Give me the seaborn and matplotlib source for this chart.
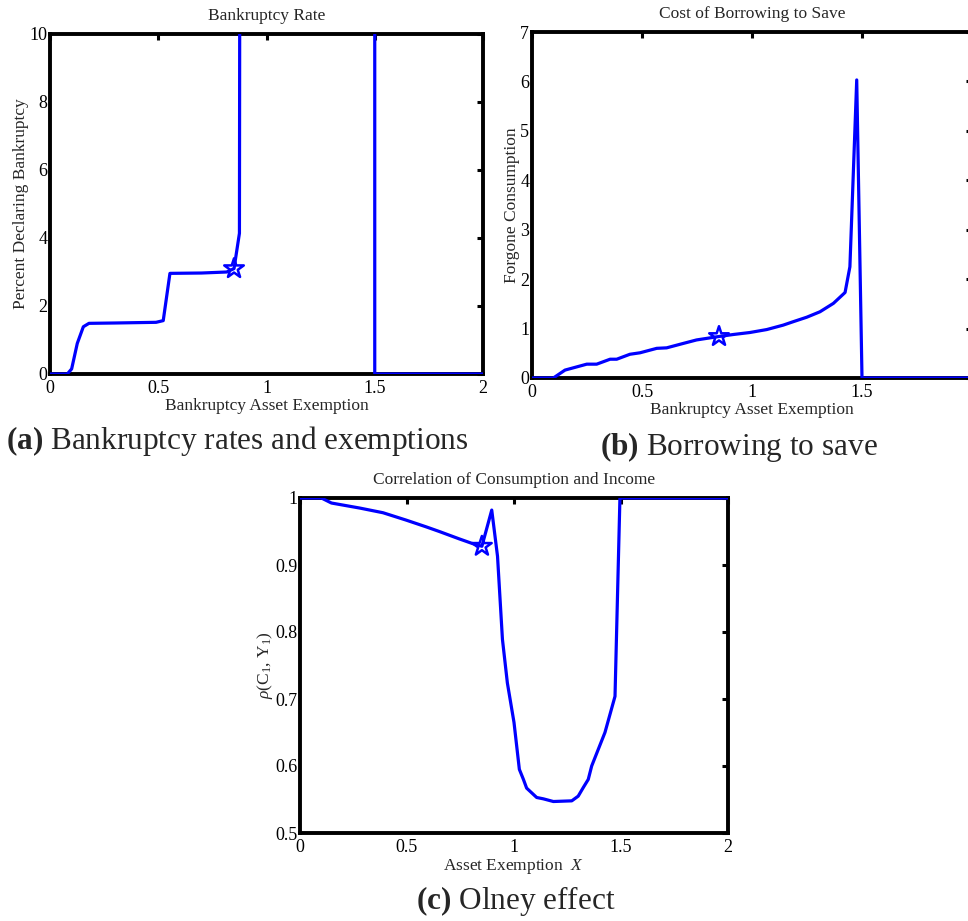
import numpy as np
import pandas as pd
import seaborn as sns
import matplotlib
matplotlib.use("Agg")
import matplotlib.pyplot as plt
from matplotlib.ticker import FuncFormatter

# ---------------- data ----------------
# (a) Bankruptcy rate
xa = [0, 0.08, 0.10, 0.126, 0.154, 0.18, 0.30, 0.49, 0.523, 0.554, 0.70, 0.816, 0.85, 0.875, 0.88, 1.5, 1.5, 2.0]
ya = [0, 0, 0.15, 0.90, 1.39, 1.49, 1.50, 1.52, 1.57, 2.96, 2.97, 3.00, 3.10, 4.14, 30, 30, 0, 0]
# (b) Cost of borrowing to save
xb = [0, 0.097, 0.15, 0.249, 0.294, 0.355, 0.385, 0.445, 0.491, 0.567, 0.612, 0.688, 0.748, 0.85,
      0.915, 0.99, 1.067, 1.142, 1.188, 1.249, 1.309, 1.37, 1.423, 1.445, 1.476, 1.5, 2.0]
yb = [0, 0, 0.16, 0.28, 0.28, 0.38, 0.38, 0.48, 0.51, 0.60, 0.61, 0.70, 0.77, 0.84,
      0.88, 0.92, 0.98, 1.07, 1.14, 1.23, 1.34, 1.51, 1.73, 2.25, 6.03, 0, 0]
# (c) Correlation of consumption and income
xc = [0, 0.10, 0.147, 0.279, 0.388, 0.496, 0.589, 0.651, 0.744, 0.806, 0.85, 0.896, 0.923, 0.946,
      0.969, 1.0, 1.025, 1.044, 1.059, 1.106, 1.137, 1.184, 1.27, 1.30, 1.324, 1.347, 1.363,
      1.425, 1.472, 1.495, 2.0]
yc = [1, 1, 0.9925, 0.985, 0.978, 0.967, 0.957, 0.950, 0.939, 0.932, 0.928, 0.982, 0.913, 0.789,
      0.724, 0.665, 0.595, 0.580, 0.567, 0.553, 0.551, 0.547, 0.548, 0.555, 0.568, 0.580, 0.600,
      0.650, 0.704, 1.0, 1.0]
# baseline exemption (star markers)
star_x = [0.85, 0.85, 0.85]
star_y = [3.10, 0.84, 0.928]

titles = ["Bankruptcy Rate", "Cost of Borrowing to Save", "Correlation of Consumption and Income"]
xlabels = ["Bankruptcy Asset Exemption", "Bankruptcy Asset Exemption", r"Asset Exemption  $X$"]
ylabels = ["Percent Declaring Bankruptcy", "Forgone Consumption", r"$\rho$(C$_1$, Y$_1$)"]
captions = [r"$\mathbf{(a)}$ Bankruptcy rates and exemptions",
            r"$\mathbf{(b)}$ Borrowing to save",
            r"$\mathbf{(c)}$ Olney effect"]
xticks = [0, 0.5, 1, 1.5, 2]
xticklabels_list = [["0", "0.5", "1", "1.5", "2"], ["0", "0.5", "1", "1.5", ""], ["0", "0.5", "1", "1.5", "2"]]
yticks_list = [[0, 2, 4, 6, 8, 10], [0, 1, 2, 3, 4, 5, 6, 7], [0.5, 0.6, 0.7, 0.8, 0.9, 1.0]]
ylims = [(0, 10), (0, 7), (0.5, 1.0)]

# ---------------- style ----------------
sns.set_theme(style="white")
plt.rcParams["font.family"] = ["Liberation Serif", "DejaVu Serif"]
plt.rcParams["mathtext.fontset"] = "custom"
plt.rcParams["mathtext.rm"] = "Liberation Serif"
plt.rcParams["mathtext.it"] = "Liberation Serif:italic"
plt.rcParams["mathtext.bf"] = "Liberation Serif:bold"

W, H = 968, 921
fig = plt.figure(figsize=(W / 100, H / 100), dpi=100)

def frac(left, top, right, bottom):
    return [left / W, 1 - bottom / H, (right - left) / W, (bottom - top) / H]

axes_px = [(50, 34, 483, 374), (532, 32, 972, 378), (300, 498, 728, 833)]
data = [(xa, ya), (xb, yb), (xc, yc)]
fmt = FuncFormatter(lambda v, p: f"{v:g}")

for i in range(3):
    ax = fig.add_axes(frac(*axes_px[i]))
    df = pd.DataFrame({"x": data[i][0], "y": data[i][1]})
    sns.lineplot(data=df, x="x", y="y", ax=ax, color="#0000ff", lw=2.3,
                 estimator=None, sort=False, zorder=4)
    sdf = pd.DataFrame({"x": [star_x[i]], "y": [star_y[i]]})
    sns.scatterplot(data=sdf, x="x", y="y", ax=ax, marker="*", s=220,
                    facecolor="none", edgecolor="#0000ff", linewidth=1.8, zorder=5)
    ax.set_xlim(0, 2)
    ax.set_ylim(*ylims[i])
    ax.set_xticks(xticks)
    ax.set_xticklabels(xticklabels_list[i])
    ax.set_yticks(yticks_list[i])
    ax.yaxis.set_major_formatter(fmt)
    ax.tick_params(direction="in", length=4, width=2.2, top=True, right=True,
                   labelsize=13, colors="black")
    ax.tick_params(axis="x", pad=4)
    ax.tick_params(axis="y", pad=2)
    for s in ax.spines.values():
        s.set_visible(True)
        s.set_linewidth(2.8)
        s.set_color("black")
    ax.set_title(titles[i], fontsize=12.5, pad=10)
    ax.set_xlabel(xlabels[i], fontsize=12.5, labelpad=1)
    ax.set_ylabel(ylabels[i], fontsize=12.5, labelpad=0)
    ax.set_facecolor("white")

fig.text(237 / W, 1 - 441 / H, captions[0], ha="center", va="center", fontsize=22.5)
fig.text(739 / W, 1 - 447 / H, captions[1], ha="center", va="center", fontsize=22.5)
fig.text(516 / W, 1 - 901 / H, captions[2], ha="center", va="center", fontsize=22.5)

fig.savefig("out.png", dpi=100, facecolor="white")
